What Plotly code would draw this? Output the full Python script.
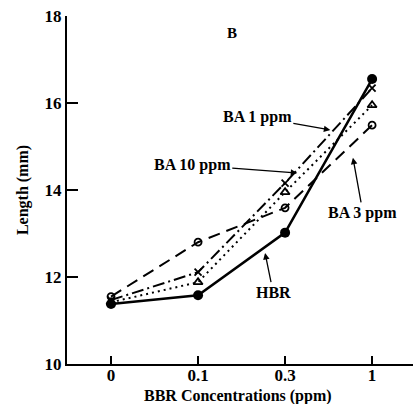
import plotly.graph_objects as go

categories = ["0", "0.1", "0.3", "1"]
hbr = [11.38, 11.58, 13.02, 16.55]
ba3 = [11.55, 12.80, 13.59, 15.49]
ba1 = [11.47, 12.11, 14.16, 16.34]
ba10 = [11.42, 11.88, 13.95, 15.95]
y_ticks = [10, 12, 14, 16, 18]

FONT = "Liberation Serif"
xi = list(range(len(categories)))

fig = go.Figure()
fig.add_trace(go.Scatter(x=xi, y=ba3, mode="lines+markers",
                         line=dict(color="black", width=2, dash="12px,7px"),
                         marker=dict(symbol="circle-open", size=7, color="black", line=dict(width=1.8))))
fig.add_trace(go.Scatter(x=xi, y=ba1, mode="lines+markers",
                         line=dict(color="black", width=2, dash="12px,4px,2px,4px"),
                         marker=dict(symbol="x-thin-open", size=7, color="black", line=dict(width=1.8))))
fig.add_trace(go.Scatter(x=xi, y=ba10, mode="lines+markers",
                         line=dict(color="black", width=2, dash="2px,4px"),
                         marker=dict(symbol="triangle-up-open", size=8, color="black", line=dict(width=1.8))))
fig.add_trace(go.Scatter(x=xi, y=hbr, mode="lines+markers",
                         line=dict(color="black", width=2.5),
                         marker=dict(symbol="circle", size=10, color="black")))

ann_font = dict(family=FONT, size=16, color="black")
def arrow(text, x, y, ax, ay):
    fig.add_annotation(x=x, y=y, xref="x", yref="y", text="<b>" + text + "</b>", showarrow=True,
                       ax=ax, ay=ay, arrowhead=2, arrowsize=1, arrowwidth=1.3,
                       arrowcolor="black", font=ann_font, standoff=0)

arrow("BA 1 ppm", 2.52, 15.38, -73, -13)
arrow("BA 10 ppm", 2.14, 14.39, -105, -8)
arrow("BA 3 ppm", 2.78, 14.74, 10, 55)
arrow("HBR", 1.77, 12.55, 8, 39)

PH = 364 - 16
fig.add_annotation(xref="paper", yref="paper",
                   x=(232 - 67) / (413 - 67), y=(364 - 23) / PH,
                   text="<b>B</b>", showarrow=False,
                   font=dict(family=FONT, size=15, color="black"))
# x-axis title
fig.add_annotation(xref="paper", yref="paper",
                   x=(238 - 67) / (413 - 67), y=(364 - 396) / PH, yanchor="middle",
                   text="<b>BBR Concentrations (ppm)</b>", showarrow=False,
                   font=dict(family=FONT, size=16, color="black"))

fig.update_layout(
    width=413, height=404,
    margin=dict(l=67, r=0, t=16, b=40),
    paper_bgcolor="white", plot_bgcolor="white",
    showlegend=False,
    font=dict(family=FONT, color="black"),
    xaxis=dict(range=[-0.506, 3.47], tickvals=xi,
               ticktext=["<b>" + c + "</b>" for c in categories],
               showgrid=False, zeroline=False, showline=True, linecolor="black", linewidth=2,
               ticks="inside", ticklen=8, tickwidth=1.5, tickcolor="black",
               ticklabelstandoff=-5,
               tickfont=dict(family=FONT, size=17, color="black")),
    yaxis=dict(range=[10, 18], tickvals=y_ticks,
               ticktext=["<b>" + str(v) + "</b>" for v in y_ticks],
               showgrid=False, zeroline=False, showline=True, linecolor="black", linewidth=2,
               ticks="inside", ticklen=11, tickwidth=1.5, tickcolor="black",
               tickfont=dict(family=FONT, size=17, color="black"),
               title=dict(text="<b>Length (mm)</b>", standoff=12,
                          font=dict(family=FONT, size=16, color="black"))),
)

fig.write_html("out.html")
